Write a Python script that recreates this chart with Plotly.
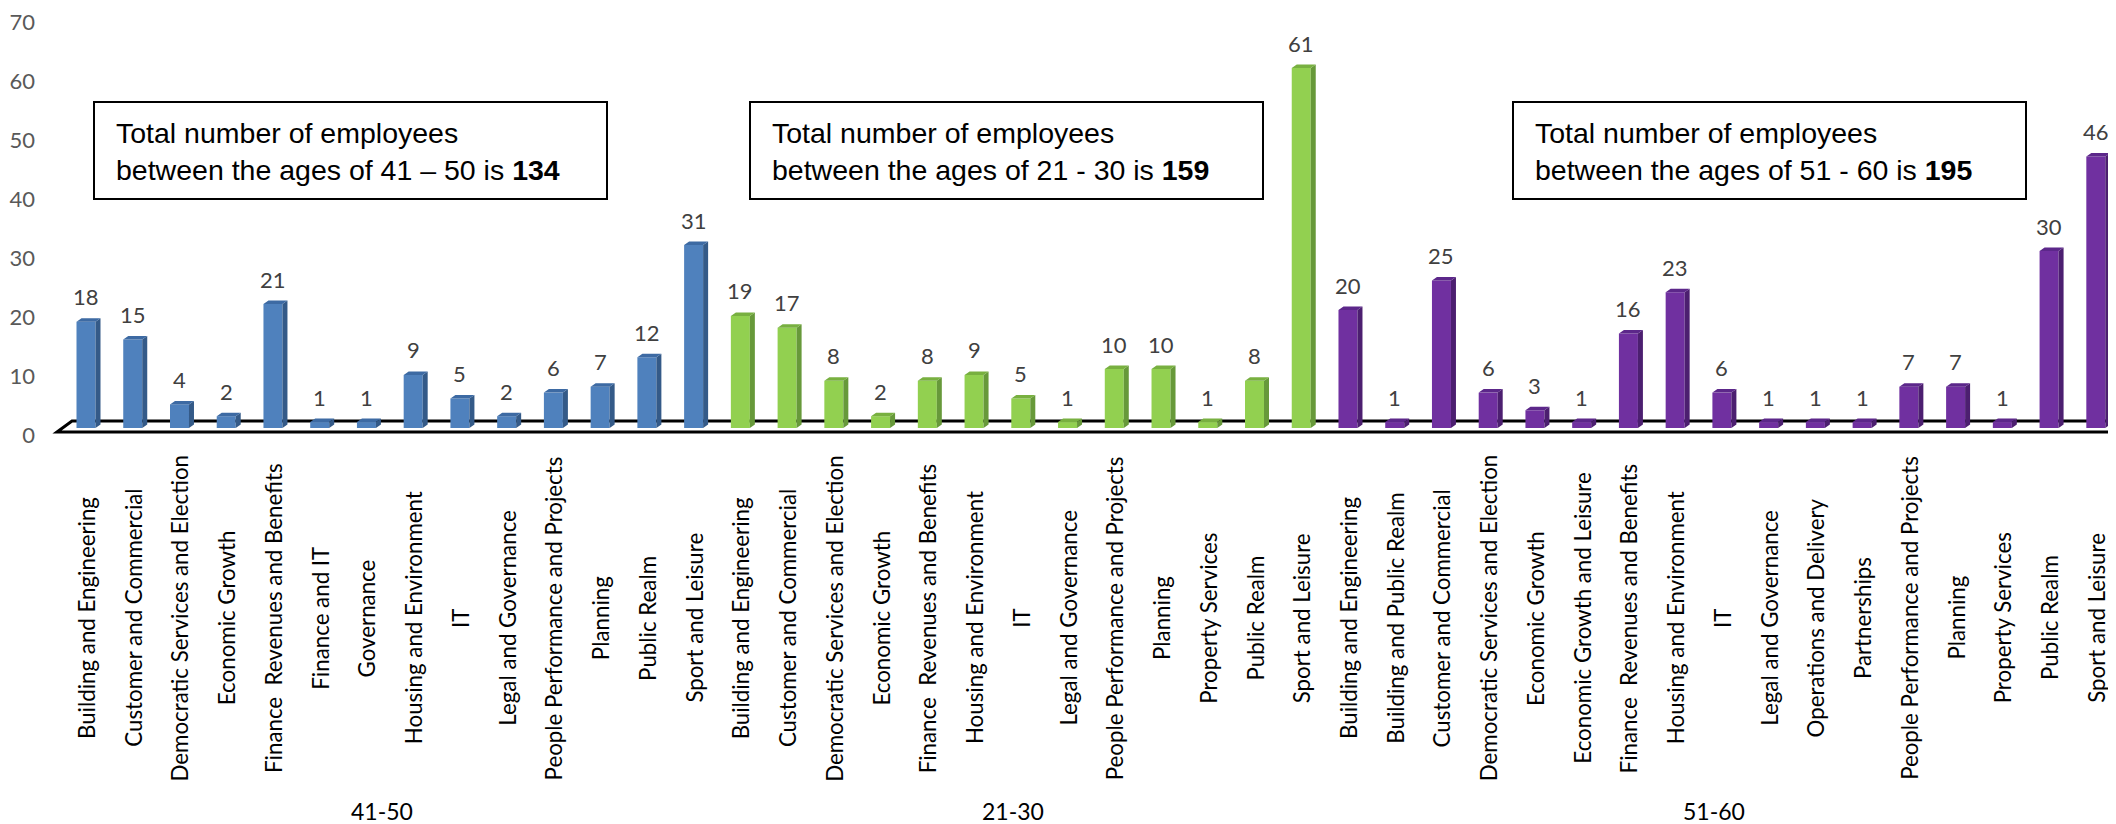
import plotly.graph_objects as go

# ---------------- data ----------------
groups = ["41-50", "21-30", "51-60"]

cats_41_50 = ["Building and Engineering", "Customer and Commercial", "Democratic Services and Election",
              "Economic Growth", "Finance\u00a0 Revenues and Benefits", "Finance and IT", "Governance",
              "Housing and Environment", "IT", "Legal and Governance", "People Performance and Projects",
              "Planning", "Public Realm", "Sport and Leisure"]
vals_41_50 = [18, 15, 4, 2, 21, 1, 1, 9, 5, 2, 6, 7, 12, 31]

cats_21_30 = ["Building and Engineering", "Customer and Commercial", "Democratic Services and Election",
              "Economic Growth", "Finance\u00a0 Revenues and Benefits", "Housing and Environment", "IT",
              "Legal and Governance", "People Performance and Projects", "Planning", "Property Services",
              "Public Realm", "Sport and Leisure"]
vals_21_30 = [19, 17, 8, 2, 8, 9, 5, 1, 10, 10, 1, 8, 61]

cats_51_60 = ["Building and Engineering", "Building and Public Realm", "Customer and Commercial",
              "Democratic Services and Election", "Economic Growth", "Economic Growth and Leisure",
              "Finance\u00a0 Revenues and Benefits", "Housing and Environment", "IT", "Legal and Governance",
              "Operations and Delivery", "Partnerships", "People Performance and Projects", "Planning",
              "Property Services", "Public Realm", "Sport and Leisure"]
vals_51_60 = [20, 1, 25, 6, 3, 1, 16, 23, 6, 1, 1, 1, 7, 7, 1, 30, 46]

box_texts = [
    "Total number of employees<br>between the ages of 41 \u2013 50 is <b>134</b>",
    "Total number of employees<br>between the ages of 21 - 30 is <b>159</b>",
    "Total number of employees<br>between the ages of 51 - 60 is <b>195</b>",
]
y_ticks = [0, 10, 20, 30, 40, 50, 60, 70]

# ---------------- layout geometry (page pixels; page has an 8px body margin) ----------------
PAGE_OFF = 8
W, H = 2116 - PAGE_OFF, 824 - PAGE_OFF
PLOT_L, PLOT_R, PLOT_T, PLOT_B = 40, 2116, 8, 440   # page pixel coords of plot area
ML = PLOT_L - PAGE_OFF
MR = 0
MT = PLOT_T - PAGE_OFF
MB = H - (PLOT_B - PAGE_OFF)
PW, PH = PLOT_R - PLOT_L, PLOT_B - PLOT_T
PX_PER_CAT = 46.74
PX_PER_UNIT = 5.9
FIRST_PX = 86
BASE_PX = 428
x0 = -(FIRST_PX - PLOT_L) / PX_PER_CAT
x1 = x0 + PW / PX_PER_CAT
y1 = (BASE_PX - PLOT_T) / PX_PER_UNIT
y0 = y1 - PH / PX_PER_UNIT


def px2x(px):
    return (px - FIRST_PX) / PX_PER_CAT


def py2y(py):
    return (BASE_PX - py) / PX_PER_UNIT


def paper_x(px):
    return (px - PLOT_L) / PW


def paper_y(py):
    return (PLOT_B - py) / PH


colors = {
    "41-50": ("#4F81BD", "#345A88", "#3D6AA3"),
    "21-30": ("#92D050", "#67993A", "#78B040"),
    "51-60": ("#7030A0", "#4C1F70", "#5C278A"),
}
BW = 19 / PX_PER_CAT
DX = 5 / PX_PER_CAT
DY = 3.5 / PX_PER_UNIT
LABEL_FONT = "Lato, Carlito, Calibri, sans-serif"

fig = go.Figure()
annotations = []
shapes = []

# floor
fx = [px2x(57), px2x(72), px2x(2122), px2x(2119)]
fy = [py2y(432), py2y(421), py2y(421), py2y(432)]
shapes.append(dict(type="path", xref="x", yref="y", layer="below",
                   path="M {} {} L {} {} L {} {} L {} {} Z".format(fx[0], fy[0], fx[1], fy[1], fx[2], fy[2], fx[3], fy[3]),
                   fillcolor="white", line=dict(color="black", width=3)))

series = [(groups[0], cats_41_50, vals_41_50), (groups[1], cats_21_30, vals_21_30), (groups[2], cats_51_60, vals_51_60)]
start = 0
for g, cats, vals in series:
    front, side, top = colors[g]
    xs = list(range(start, start + len(cats)))
    fig.add_trace(go.Bar(x=xs, y=vals, width=BW, marker=dict(color=front, line=dict(width=0)),
                         showlegend=False, hoverinfo="skip"))
    sx, sy, tx, ty = [], [], [], []
    for xi, v in zip(xs, vals):
        r = xi + BW / 2
        l = xi - BW / 2
        sx += [r, r + DX, r + DX, r, r, None]
        sy += [0, DY, v + DY, v, 0, None]
        tx += [l, l + DX, r + DX, r, l, None]
        ty += [v, v + DY, v + DY, v, v, None]
        annotations.append(dict(x=xi, y=v, xref="x", yref="y", text=str(v), showarrow=False,
                                yshift=25, yanchor="middle",
                                font=dict(family=LABEL_FONT, size=22, color="#404040")))
        annotations.append(dict(x=xi, y=paper_y(618), xref="x", yref="paper", text=cats[xi - start],
                                showarrow=False, textangle=-90, xanchor="center", yanchor="middle",
                                font=dict(family=LABEL_FONT, size=22.3, color="black")))
    fig.add_trace(go.Scatter(x=sx, y=sy, mode="lines", fill="toself", fillcolor=side,
                             line=dict(width=0, color=side), showlegend=False, hoverinfo="skip"))
    fig.add_trace(go.Scatter(x=tx, y=ty, mode="lines", fill="toself", fillcolor=top,
                             line=dict(width=0, color=top), showlegend=False, hoverinfo="skip"))
    center = (xs[0] + xs[-1]) / 2
    annotations.append(dict(x=center, y=paper_y(811), xref="x", yref="paper", text=g, showarrow=False,
                            xshift=-8, xanchor="center", yanchor="middle",
                            font=dict(family=LABEL_FONT, size=23, color="black")))
    start += len(cats)

# text boxes
box_left = [94, 750, 1513]
for bl, txt in zip(box_left, box_texts):
    shapes.append(dict(type="rect", xref="paper", yref="paper",
                       x0=paper_x(bl), x1=paper_x(bl + 513), y0=paper_y(199), y1=paper_y(102),
                       fillcolor="white", line=dict(color="black", width=2), layer="above"))
    annotations.append(dict(x=paper_x(bl + 20), y=paper_y(151), xref="paper", yref="paper", text=txt,
                            showarrow=False, xanchor="left", yanchor="middle", align="left",
                            font=dict(family="Liberation Sans, Arial, sans-serif", size=28.5, color="black")))

fig.update_layout(
    width=W, height=H,
    margin=dict(l=ML, r=MR, t=MT, b=MB, autoexpand=False),
    plot_bgcolor="white", paper_bgcolor="white",
    barmode="overlay",
    shapes=shapes, annotations=annotations,
    xaxis=dict(range=[x0, x1], showticklabels=False, showgrid=False, zeroline=False, showline=False,
               ticks="", automargin=False),
    yaxis=dict(range=[y0, y1], tickvals=y_ticks, showgrid=False, zeroline=False, showline=False,
               ticks="", ticklabelshift=7, ticklabelstandoff=4, ticklabeloverflow="allow",
               automargin=False,
               tickfont=dict(family=LABEL_FONT, size=22, color="#595959")),
)

fig.write_html("out.html")
